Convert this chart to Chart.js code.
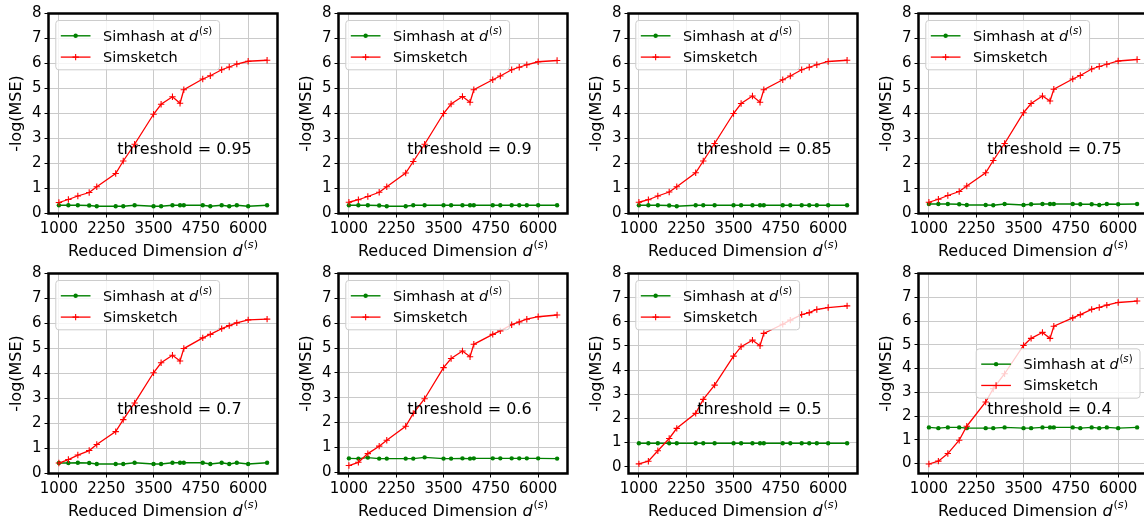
<!DOCTYPE html>
<html><head><meta charset="utf-8">
<script src="https://cdn.jsdelivr.net/npm/chart.js@4.4.1/dist/chart.umd.min.js"></script>
<style>
html,body{margin:0;padding:0;background:#fff;overflow:hidden;width:1144px;height:523px;}
#wrap{position:relative;width:1144px;height:523px;overflow:hidden;background:#fff;}
canvas{position:absolute;}
</style></head><body><div id="wrap"></div>
<script>
// ---- data ----
const xValues = [1000,1250,1500,1800,2000,2500,2700,3000,3500,3700,4000,4200,4300,4800,5000,5300,5500,5700,6000,6500];
const xTicks = [1000,2250,3500,4750,6000];
const yTicks = [0,1,2,3,4,5,6,7,8];
const thresholds = ['0.95','0.9','0.85','0.75','0.7','0.6','0.5','0.4'];
const seriesNames = ['Simhash at $d^{(s)}$', 'Simsketch'];
const xTitle = 'Reduced Dimension $d^{(s)}$';
const yTitle = '-log(MSE)';

const simhash095 = [0.33,0.33,0.33,0.32,0.29,0.29,0.29,0.33,0.29,0.29,0.33,0.33,0.33,0.33,0.29,0.33,0.29,0.33,0.29,0.33];
const simhash090 = [0.33,0.33,0.33,0.32,0.29,0.29,0.33,0.33,0.33,0.33,0.33,0.33,0.33,0.33,0.33,0.33,0.33,0.33,0.33,0.33];
const simhash085 = [0.33,0.33,0.33,0.32,0.29,0.33,0.33,0.33,0.33,0.33,0.33,0.33,0.33,0.33,0.33,0.33,0.33,0.33,0.33,0.33];
const simhash075 = [0.38,0.38,0.38,0.37,0.34,0.34,0.33,0.38,0.34,0.37,0.38,0.38,0.38,0.38,0.37,0.37,0.34,0.38,0.37,0.38];
const simhash070 = [0.40,0.40,0.41,0.40,0.36,0.36,0.36,0.41,0.36,0.36,0.41,0.41,0.41,0.41,0.36,0.41,0.36,0.41,0.36,0.41];
const simhash060 = [0.56,0.55,0.59,0.55,0.55,0.55,0.55,0.60,0.55,0.55,0.56,0.55,0.56,0.56,0.56,0.56,0.56,0.56,0.56,0.55];
const simhash050 = [0.97,0.97,0.97,0.97,0.97,0.97,0.97,0.97,0.97,0.97,0.97,0.97,0.97,0.97,0.97,0.97,0.97,0.97,0.97,0.97];
const simhash040 = [1.52,1.49,1.52,1.52,1.49,1.49,1.49,1.52,1.49,1.49,1.52,1.52,1.52,1.52,1.49,1.52,1.49,1.52,1.49,1.52];

const simsketch095 = [0.44,0.56,0.70,0.84,1.07,1.60,2.10,2.77,3.97,4.37,4.67,4.41,4.95,5.38,5.51,5.75,5.86,5.98,6.09,6.13];
const simsketch090 = [0.45,0.55,0.68,0.85,1.07,1.62,2.08,2.77,4.00,4.38,4.68,4.45,4.95,5.35,5.50,5.75,5.85,5.95,6.07,6.12];
const simsketch085 = [0.45,0.55,0.70,0.86,1.07,1.63,2.10,2.80,4.00,4.40,4.70,4.45,4.95,5.35,5.50,5.75,5.85,5.95,6.08,6.13];
const simsketch075 = [0.45,0.57,0.72,0.88,1.10,1.63,2.12,2.80,4.03,4.40,4.70,4.50,4.97,5.38,5.52,5.78,5.88,5.97,6.10,6.16];
const simsketch070 = [0.40,0.54,0.72,0.90,1.14,1.66,2.14,2.81,4.02,4.42,4.72,4.49,4.99,5.42,5.56,5.79,5.91,6.02,6.14,6.17];
const simsketch060 = [0.27,0.40,0.75,1.05,1.29,1.85,2.37,2.96,4.21,4.58,4.88,4.65,5.15,5.55,5.69,5.94,6.05,6.16,6.26,6.33];
const simsketch050 = [0.12,0.23,0.66,1.17,1.59,2.21,2.79,3.38,4.58,4.97,5.24,5.01,5.52,5.90,6.07,6.30,6.38,6.51,6.59,6.66];
const simsketch040 = [-0.02,0.10,0.42,0.98,1.57,2.59,3.15,3.78,4.97,5.27,5.52,5.27,5.78,6.13,6.27,6.49,6.57,6.67,6.78,6.84];

const simhashAll = [simhash095,simhash090,simhash085,simhash075,simhash070,simhash060,simhash050,simhash040];
const simsketchAll = [simsketch095,simsketch090,simsketch085,simsketch075,simsketch070,simsketch060,simsketch050,simsketch040];
const yMins = [0,0,0,0,-0.02,-0.05,-0.28,-0.42];
const yMax = 8;
const xMin = 725, xMax = 6775;
const legendLocs = ['upper left','upper left','upper left','upper left','upper left','upper left','upper left','center right'];

// ---- rich text (simple mathtext: $d^{(s)}$) ----
const FAM = '"DejaVu Sans"';
function parseRich(text){
  const segs = [];
  const parts = text.split('$');
  parts.forEach((p, idx) => {
    if (!p) return;
    if (idx % 2 === 0) { segs.push({t:p, it:false, sup:false}); return; }
    let k = 0;
    while (k < p.length) {
      if (p[k] === '^' && p[k+1] === '{') {
        const end = p.indexOf('}', k);
        const inner = p.slice(k+2, end);
        for (const ch of inner) segs.push({t:ch, it:/[a-zA-Z]/.test(ch), sup:true});
        k = end + 1;
      } else {
        segs.push({t:p[k], it:/[a-zA-Z]/.test(p[k]), sup:false});
        k++;
      }
    }
  });
  return segs;
}
function segFont(s, size){ return (s.it ? 'italic ' : '') + (s.sup ? size*0.7 : size) + 'px ' + FAM; }
function measureRich(ctx, text, size){
  let w = 0;
  for (const s of parseRich(text)) { ctx.font = segFont(s, size); w += ctx.measureText(s.t).width + (s.sup && s.t==='(' ? size*0.05 : 0); }
  return w;
}
function drawRich(ctx, text, x, y, size, align){
  const w = measureRich(ctx, text, size);
  let cx = align === 'center' ? x - w/2 : x;
  ctx.textAlign = 'left'; ctx.textBaseline = 'alphabetic';
  for (const s of parseRich(text)) {
    ctx.font = segFont(s, size);
    if (s.sup && s.t==='(') cx += size*0.05;
    ctx.fillText(s.t, cx, s.sup ? y - size*0.45 : y);
    cx += ctx.measureText(s.t).width;
  }
}

function decorPlugin(i){
  return {
    id:'decor'+i,
    afterDraw(chart){
      const ctx = chart.ctx, ca = chart.chartArea;
      const w = ca.right - ca.left, h = ca.bottom - ca.top;
      ctx.save();
      // threshold text (axes fraction 0.3, 0.3)
      ctx.fillStyle = '#000';
      ctx.font = '16px ' + FAM; ctx.textAlign = 'left'; ctx.textBaseline = 'alphabetic';
      ctx.fillText('threshold = ' + thresholds[i], ca.left + 0.3*w, ca.bottom - 0.3*h);
      // frame
      ctx.strokeStyle = '#000'; ctx.lineWidth = 2.5;
      ctx.strokeRect(ca.left, ca.top, w, h);
      // x title
      ctx.fillStyle = '#000';
      drawRich(ctx, xTitle, (ca.left + ca.right)/2, ca.bottom + 42, 16, 'center');
      // legend
      const fs = 14.5;
      const ds = chart.data.datasets;
      const tw = Math.max(...ds.map(d => measureRich(ctx, d.label, fs)));
      const bw = 5 + 29.7 + 12.6 + tw + 7.4, bh = 49.3;
      let bx, by;
      if (legendLocs[i] === 'upper left') { bx = ca.left + 7.3; by = ca.top + 7; }
      else { bx = ca.right - 7.5 - bw; by = (ca.top + ca.bottom)/2 - bh/2; }
      ctx.beginPath();
      ctx.roundRect(bx, by, bw, bh, 3);
      ctx.fillStyle = 'rgba(255,255,255,0.8)'; ctx.fill();
      ctx.strokeStyle = '#cccccc'; ctx.lineWidth = 1; ctx.stroke();
      ds.forEach((d, k) => {
        const ry = by + 15.3 + k*21.3;
        ctx.strokeStyle = d.borderColor; ctx.lineWidth = d.borderWidth;
        ctx.beginPath(); ctx.moveTo(bx + 5, ry); ctx.lineTo(bx + 34.7, ry); ctx.stroke();
        const mx = bx + 19.85;
        if (d.pointStyle === 'circle') {
          ctx.fillStyle = d.pointBackgroundColor;
          ctx.beginPath(); ctx.arc(mx, ry, d.pointRadius, 0, Math.PI*2); ctx.fill();
        } else {
          ctx.strokeStyle = d.pointBorderColor; ctx.lineWidth = d.pointBorderWidth;
          const r = d.pointRadius;
          ctx.beginPath(); ctx.moveTo(mx - r, ry); ctx.lineTo(mx + r, ry); ctx.moveTo(mx, ry - r); ctx.lineTo(mx, ry + r); ctx.stroke();
        }
        ctx.fillStyle = '#000';
        drawRich(ctx, d.label, bx + 47.3, ry + 4.7, fs, 'left');
      });
      ctx.restore();
    }
  };
}

const wrap = document.getElementById('wrap');
function makeChart(i){
  const c = document.createElement('canvas');
  c.width = 290; c.height = 262;
  c.style.width = '290px'; c.style.height = '262px';
  c.style.left = (i % 4) * 290 + 'px';
  c.style.top = Math.floor(i / 4) * 260 + 'px';
  wrap.appendChild(c);
  const toPts = arr => arr.map((y, k) => ({x: xValues[k], y}));
  const tickFont = {family:'DejaVu Sans', size:15};
  new Chart(c, {
    type:'line',
    data:{datasets:[
      {label: seriesNames[0], data: toPts(simhashAll[i]), borderColor:'#008000', backgroundColor:'#008000',
       borderWidth:1.4, pointStyle:'circle', pointRadius:2.2, pointBorderWidth:0,
       pointBackgroundColor:'#008000', pointBorderColor:'#008000', tension:0, order:1},
      {label: seriesNames[1], data: toPts(simsketchAll[i]), borderColor:'#ff0000', backgroundColor:'#ff0000',
       borderWidth:1.3, pointStyle:'cross', pointRadius:3.2, pointBorderWidth:1.1,
       pointBackgroundColor:'#ff0000', pointBorderColor:'#ff0000', tension:0, order:0}
    ]},
    options:{
      responsive:false, animation:false, devicePixelRatio:1, events:[],
      layout:{padding:{left:0, top:13.5, right:12.5, bottom:0}},
      plugins:{legend:{display:false}, tooltip:{enabled:false}},
      scales:{
        x:{type:'linear', min:xMin, max:xMax,
          afterBuildTicks: s => { s.ticks = xTicks.map(v => ({value:v})); },
          afterFit: s => { s.height = 48.5; },
          grid:{color:'#cacaca', lineWidth:1, drawTicks:true, tickLength:4, tickColor:'#000', tickWidth:1},
          border:{display:false},
          ticks:{autoSkip:false, maxRotation:0, minRotation:0, padding:3, color:'#000', font:tickFont,
                 callback: v => String(v)}
        },
        y:{type:'linear', min:yMins[i], max:yMax,
          afterBuildTicks: s => { s.ticks = yTicks.map(v => ({value:v})); },
          afterFit: s => { s.width = 48.5; },
          grid:{color:'#cacaca', lineWidth:1, drawTicks:true, tickLength:4, tickColor:'#000', tickWidth:1},
          border:{display:false},
          ticks:{padding:3, color:'#000', font:tickFont, callback: v => String(v)},
          title:{display:true, text:yTitle, color:'#000', font:{family:'DejaVu Sans', size:16}, padding:{top:7.4, bottom:0}}
        }
      }
    },
    plugins:[decorPlugin(i)]
  });
}
for (let i = 0; i < 8; i++) makeChart(i);
</script>
</body></html>
